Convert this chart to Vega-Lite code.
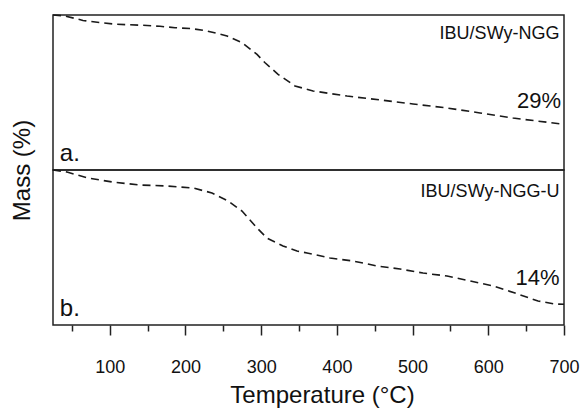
{
  "$schema": "https://vega.github.io/schema/vega-lite/v6.json",
  "padding": {"left": 9, "top": 11, "right": 0, "bottom": 0},
  "bounds": "flush",
  "spacing": 0,
  "config": {
    "view": {"stroke": "#222", "strokeWidth": 1.5},
    "font": "Liberation Sans",
    "text": {"font": "Liberation Sans", "color": "#111"}
  },
  "datasets": {
    "curves": [
      {"panel": "a", "temp": 25, "mass": 100},
      {"panel": "a", "temp": 40.9, "mass": 99.4},
      {"panel": "a", "temp": 64.6, "mass": 96.5},
      {"panel": "a", "temp": 88.4, "mass": 95.0},
      {"panel": "a", "temp": 109.5, "mass": 94.0},
      {"panel": "a", "temp": 142.6, "mass": 93.4},
      {"panel": "a", "temp": 166.3, "mass": 92.7},
      {"panel": "a", "temp": 186.2, "mass": 91.8},
      {"panel": "a", "temp": 208.6, "mass": 91.2},
      {"panel": "a", "temp": 228.4, "mass": 89.7},
      {"panel": "a", "temp": 254.9, "mass": 86.5},
      {"panel": "a", "temp": 274.7, "mass": 82.1},
      {"panel": "a", "temp": 294.5, "mass": 74.6},
      {"panel": "a", "temp": 305.1, "mass": 69.2},
      {"panel": "a", "temp": 322.3, "mass": 61.7},
      {"panel": "a", "temp": 344.7, "mass": 54.2},
      {"panel": "a", "temp": 368.5, "mass": 51.0},
      {"panel": "a", "temp": 413.4, "mass": 47.7},
      {"panel": "a", "temp": 457.0, "mass": 45.2},
      {"panel": "a", "temp": 500.6, "mass": 42.6},
      {"panel": "a", "temp": 545.5, "mass": 40.0},
      {"panel": "a", "temp": 589.1, "mass": 36.8},
      {"panel": "a", "temp": 632.7, "mass": 33.5},
      {"panel": "a", "temp": 700, "mass": 29.5},
      {"panel": "b", "temp": 25, "mass": 100},
      {"panel": "b", "temp": 43.5, "mass": 98.7},
      {"panel": "b", "temp": 71.2, "mass": 94.8},
      {"panel": "b", "temp": 102.9, "mass": 92.3},
      {"panel": "b", "temp": 139.9, "mass": 90.3},
      {"panel": "b", "temp": 175.6, "mass": 89.7},
      {"panel": "b", "temp": 209.9, "mass": 88.4},
      {"panel": "b", "temp": 235.0, "mass": 85.2},
      {"panel": "b", "temp": 256.2, "mass": 80.0},
      {"panel": "b", "temp": 274.7, "mass": 73.5},
      {"panel": "b", "temp": 294.5, "mass": 62.6},
      {"panel": "b", "temp": 307.7, "mass": 56.1},
      {"panel": "b", "temp": 328.8, "mass": 51.0},
      {"panel": "b", "temp": 347.3, "mass": 47.7},
      {"panel": "b", "temp": 360.5, "mass": 46.5},
      {"panel": "b", "temp": 390.9, "mass": 43.2},
      {"panel": "b", "temp": 421.3, "mass": 41.3},
      {"panel": "b", "temp": 453.0, "mass": 38.1},
      {"panel": "b", "temp": 483.4, "mass": 36.1},
      {"panel": "b", "temp": 513.8, "mass": 33.5},
      {"panel": "b", "temp": 545.5, "mass": 31.6},
      {"panel": "b", "temp": 575.9, "mass": 28.4},
      {"panel": "b", "temp": 606.2, "mass": 25.2},
      {"panel": "b", "temp": 635.3, "mass": 20.6},
      {"panel": "b", "temp": 665.7, "mass": 15.5},
      {"panel": "b", "temp": 688.1, "mass": 13.5},
      {"panel": "b", "temp": 700, "mass": 13.4}
    ],
    "notes": [
      {"panel": "a", "kind": "tag", "text": "a.", "temp": 34, "mass": 6},
      {"panel": "a", "kind": "name", "text": "IBU/SWy-NGG", "temp": 694, "mass": 84.5},
      {"panel": "a", "kind": "pct", "text": "29%", "temp": 696, "mass": 40.3},
      {"panel": "b", "kind": "tag", "text": "b.", "temp": 34, "mass": 6},
      {"panel": "b", "kind": "name", "text": "IBU/SWy-NGG-U", "temp": 694, "mass": 82.6},
      {"panel": "b", "kind": "pct", "text": "14%", "temp": 694, "mass": 25.8}
    ]
  },
  "vconcat": [
    {
      "width": 511,
      "height": 155,
      "encoding": {
        "x": {"field": "temp", "type": "quantitative", "scale": {"domain": [25, 700], "nice": false}, "axis": null},
        "y": {"field": "mass", "type": "quantitative", "scale": {"domain": [0, 100], "nice": false},
          "axis": {"title": "Mass (%)", "domain": false, "ticks": false, "labels": false, "grid": false,
            "titleX": -31, "titleY": 155, "titleAngle": -90, "titleAlign": "center", "titleBaseline": "middle",
            "titleFontSize": 24, "titleFontWeight": "normal", "titleColor": "#111"}}
      },
      "layer": [
        {
          "data": {"name": "curves"},
          "transform": [{"filter": "datum.panel === 'a'"}],
          "mark": {"type": "line", "strokeDash": [8, 5], "strokeWidth": 1.6, "color": "#1a1a1a"}
        },
        {
          "data": {"name": "notes"},
          "transform": [{"filter": "datum.panel === 'a' && datum.kind === 'tag'"}],
          "mark": {"type": "text", "align": "left", "baseline": "alphabetic", "fontSize": 24},
          "encoding": {"text": {"field": "text"}}
        },
        {
          "data": {"name": "notes"},
          "transform": [{"filter": "datum.panel === 'a' && datum.kind === 'name'"}],
          "mark": {"type": "text", "align": "right", "baseline": "alphabetic", "fontSize": 18},
          "encoding": {"text": {"field": "text"}}
        },
        {
          "data": {"name": "notes"},
          "transform": [{"filter": "datum.panel === 'a' && datum.kind === 'pct'"}],
          "mark": {"type": "text", "align": "right", "baseline": "alphabetic", "fontSize": 22},
          "encoding": {"text": {"field": "text"}}
        }
      ]
    },
    {
      "width": 511,
      "height": 155,
      "encoding": {
        "x": {"field": "temp", "type": "quantitative", "scale": {"domain": [25, 700], "nice": false},
          "axis": {
            "values": [50, 100, 150, 200, 250, 300, 350, 400, 450, 500, 550, 600, 650, 700],
            "labelExpr": "datum.value % 100 === 0 ? datum.label : ''",
            "tickSize": {"condition": {"test": "datum.value % 100 === 0", "value": 10}, "value": 6},
            "tickWidth": 1.5, "tickColor": "#222", "domain": false, "grid": false,
            "labelFontSize": 18, "labelColor": "#111", "labelPadding": 23, "labelFlush": false, "labelOverlap": false,
            "title": "Temperature (°C)", "titleFontSize": 24, "titleFontWeight": "normal", "titleColor": "#111",
            "titleX": 269, "titleY": 77, "titleBaseline": "alphabetic", "titleAlign": "center"
          }},
        "y": {"field": "mass", "type": "quantitative", "scale": {"domain": [0, 100], "nice": false}, "axis": null}
      },
      "layer": [
        {
          "data": {"name": "curves"},
          "transform": [{"filter": "datum.panel === 'b'"}],
          "mark": {"type": "line", "strokeDash": [8, 5], "strokeWidth": 1.6, "color": "#1a1a1a"}
        },
        {
          "data": {"name": "notes"},
          "transform": [{"filter": "datum.panel === 'b' && datum.kind === 'tag'"}],
          "mark": {"type": "text", "align": "left", "baseline": "alphabetic", "fontSize": 24},
          "encoding": {"text": {"field": "text"}}
        },
        {
          "data": {"name": "notes"},
          "transform": [{"filter": "datum.panel === 'b' && datum.kind === 'name'"}],
          "mark": {"type": "text", "align": "right", "baseline": "alphabetic", "fontSize": 18},
          "encoding": {"text": {"field": "text"}}
        },
        {
          "data": {"name": "notes"},
          "transform": [{"filter": "datum.panel === 'b' && datum.kind === 'pct'"}],
          "mark": {"type": "text", "align": "right", "baseline": "alphabetic", "fontSize": 22},
          "encoding": {"text": {"field": "text"}}
        }
      ]
    }
  ]
}
